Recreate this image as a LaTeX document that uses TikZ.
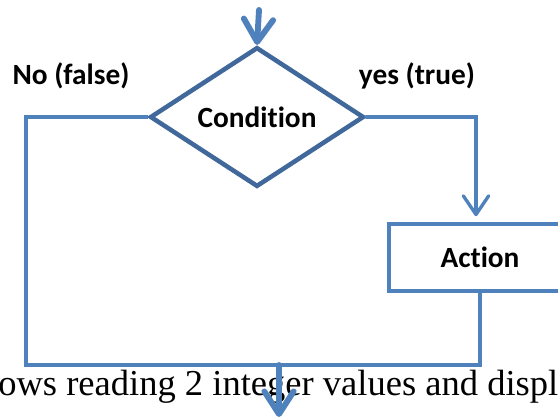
\documentclass[tikz,border=0pt]{standalone}
\usepackage{fontspec}
\setmainfont{Liberation Serif}
\newfontfamily\labelfont[Ligatures=NoCommon]{Carlito}
\usetikzlibrary{arrows.meta, positioning, shapes.geometric}

\definecolor{flowblue}{RGB}{79,129,189}
\definecolor{edgeblue}{RGB}{65,104,155}

\begin{document}
\begin{tikzpicture}[
  x=0.75pt, y=-0.75pt,
  decision/.style={diamond, draw=edgeblue, line width=3.4pt, fill=white, inner sep=0pt,
                minimum width=160.5pt, minimum height=80.25pt, align=center,
                font=\labelfont\fontsize{22}{26}\selectfont\bfseries},
  actbox/.style={rectangle, draw=flowblue, line width=3pt, fill=white, inner sep=0pt,
                minimum width=136.5pt, minimum height=50pt, align=center,
                font=\labelfont\fontsize{22}{26}\selectfont\bfseries},
  flow/.style={draw=flowblue, line width=2.5pt},
  into/.style={flow, line cap=round, -{Straight Barb[length=14pt, width=19pt, line join=round, line cap=round]}},
  bigflow/.style={draw=flowblue, line width=4.4pt, line cap=round,
                -{Straight Barb[length=17pt, width=22pt, line join=round, line cap=round]}},
  lbl/.style={font=\labelfont\fontsize{22}{26}\selectfont\bfseries, inner sep=0pt},
  bgtext/.style={font=\fontsize{27.4}{32}\selectfont, inner sep=0pt}
]
  \useasboundingbox (0,0) rectangle (558,419);
  \clip (0,0) rectangle (558,419);

  % text of the page behind the chart
  \node[bgtext, anchor=base west] (pageline) at (-2,395) {ows reading 2 integer values and displ};

  \node[decision] (cond) at (257,117) {Condition};
  \node[actbox] (action) at (480,257.5) {Action};

  \node[lbl] (nolbl) at (71,76) {No (false)};
  \node[lbl] (yeslbl) at (417,76) {yes (true)};

  \coordinate (start) at (259,10);
  \coordinate (rturn) at (476,117);
  \coordinate (lbot) at (26,365);
  \coordinate (join) at (279,365);
  \coordinate (exit) at (279,417);

  \draw[bigflow] (start) -- (cond.north);
  \draw[into] (cond.east) -- (rturn) -- ([yshift=4.5pt]rturn |- action.north);
  \draw[flow] (cond.west) -| (lbot) -| (action.south);
  \draw[bigflow] (join) -- (exit);
\end{tikzpicture}
\end{document}
